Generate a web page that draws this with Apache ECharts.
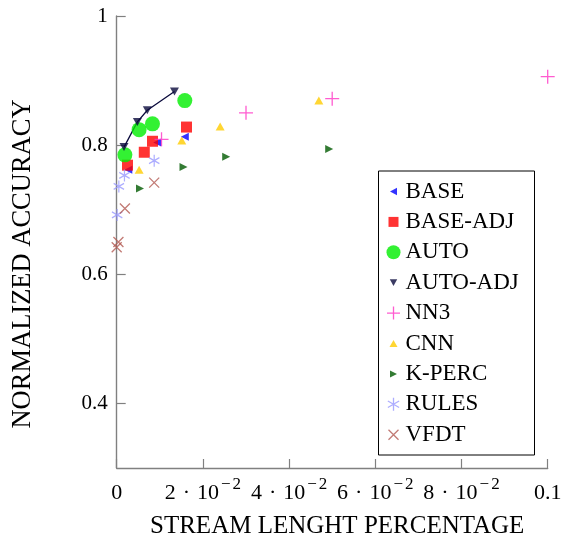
<!DOCTYPE html>
<html><head><meta charset="utf-8">
<script src="https://cdn.jsdelivr.net/npm/echarts@6/dist/echarts.min.js"></script>
<style>html,body{margin:0;padding:0;background:#fff}#c{width:577px;height:538px}</style>
</head><body><div id="c"></div><script>
// ---- data ----
const seriesNames = ['BASE','BASE-ADJ','AUTO','AUTO-ADJ','NN3','CNN','K-PERC','RULES','VFDT'];
const baseX    = [0.0027, 0.0094, 0.0158];
const baseY    = [0.762, 0.804, 0.813];
const baseAdjX = [0.0025, 0.0064, 0.0083, 0.0162];
const baseAdjY = [0.769, 0.789, 0.806, 0.828];
const autoX    = [0.0019, 0.0052, 0.0083, 0.0158];
const autoY    = [0.785, 0.824, 0.833, 0.869];
const autoAdjX = [0.0017, 0.0048, 0.0071, 0.0134];
const autoAdjY = [0.797, 0.836, 0.854, 0.883];
const nn3X     = [0.0104, 0.0300, 0.0500, 0.1000];
const nn3Y     = [0.809, 0.850, 0.872, 0.906];
const cnnX     = [0.0052, 0.0151, 0.0240, 0.0469];
const cnnY     = [0.762, 0.807, 0.829, 0.869];
const kpercX   = [0.0054, 0.0155, 0.0254, 0.0493];
const kpercY   = [0.733, 0.766, 0.782, 0.794];
const rulesX   = [0.0001, 0.0005, 0.0018, 0.0087];
const rulesY   = [0.692, 0.736, 0.753, 0.776];
const vfdtX    = [0.0000, 0.0004, 0.0019, 0.0087];
const vfdtY    = [0.642, 0.650, 0.702, 0.742];
const xTicks = [0, 0.02, 0.04, 0.06, 0.08, 0.1];
const xTickMant = ['0', '2', '4', '6', '8', '0.1'];   // mantissa of n·10^-2
const xTickExp  = ['', '2', '2', '2', '2', ''];       // exponent magnitude (negative)
const yTicks = [0.4, 0.6, 0.8, 1];
const yTickLabels = ['0.4', '0.6', '0.8', '1'];
const xTitle = 'STREAM LENGHT PERCENTAGE';
const yTitle = 'NORMALIZED ACCURACY';

const zip = (xs, ys) => xs.map((x, i) => [x, ys[i]]);
const FONT = "'Liberation Serif', 'DejaVu Serif', serif";

// symbols
const P = {
  left:  'path://M10,0L10,10L0,5Z',
  right: 'path://M0,0L0,10L10,5Z',
  down:  'path://M0,0L10,0L5,10Z',
  up:    'path://M5,0L10,10L0,10Z',
  plus:  'path://M0,5L10,5M5,0L5,10',
  aster: 'path://M4.33,0L4.33,10M0,2.5L8.66,7.5M0,7.5L8.66,2.5',
  cross: 'path://M0,0L10,10M0,10L10,0'
};
const B = 'path://M0,0M14,14';
const legendIcons = {
  'BASE': B + 'M3.5,7L10.5,3.3L10.5,10.7Z',
  'BASE-ADJ': B + 'M2,2L12,2L12,12L2,12Z',
  'AUTO': 'circle',
  'AUTO-ADJ': B + 'M3.3,3.5L10.7,3.5L7,10.3Z',
  'NN3': B + 'M0.5,7L13.5,7M7,0.5L7,13.5',
  'CNN': B + 'M3,10.5L11,10.5L7,3.5Z',
  'K-PERC': B + 'M3.5,3.5L10.5,7L3.5,10.5Z',
  'RULES': B + 'M7,0.5L7,13.5M1.37,3.75L12.63,10.25M1.37,10.25L12.63,3.75',
  'VFDT': B + 'M2,2L12,12M2,12L12,2'
};
const strokeOnly = {'NN3': 1, 'RULES': 1, 'VFDT': 1};

function sc(name, data, symbol, size, color, stroke) {
  return {
    name, type: 'scatter', data, symbol, symbolSize: size, symbolKeepAspect: false,
    itemStyle: stroke ? {color: 'none', borderColor: color, borderWidth: 1.3}
                      : {color: color, borderWidth: 0},
    emphasis: {disabled: true}, z: 3
  };
}

const chart = echarts.init(document.getElementById('c'), null, {renderer: 'canvas'});
chart.setOption({
  animation: false,
  backgroundColor: '#fff',
  grid: {left: 116.7, right: 29.3, top: 16, bottom: 70, containLabel: false, outerBoundsMode: 'none'},
  graphic: [{
    type: 'rect', z: 8, silent: true,
    shape: {x: 378.5, y: 171, width: 156, height: 284},
    style: {fill: '#fff', stroke: '#000', lineWidth: 1}
  }],
  xAxis: {
    type: 'value', min: 0, max: 0.1,
    name: xTitle, nameLocation: 'middle', nameGap: 46,
    nameTextStyle: {fontFamily: FONT, fontSize: 25, color: '#000', padding: [0, 0, 0, 10]},
    axisLine: {show: true, lineStyle: {color: '#808080', width: 1.4}},
    axisTick: {show: true, inside: true, length: 9, customValues: xTicks, lineStyle: {color: '#808080', width: 1.2}},
    splitLine: {show: false},
    axisLabel: {
      customValues: xTicks, margin: 8, color: '#000',
      formatter: function (v) {
        let i = xTicks.findIndex(t => Math.abs(t - v) < 1e-9);
        if (i < 0) return '';
        if (!xTickExp[i]) return '{m|' + xTickMant[i] + '}';
        return '{m|' + xTickMant[i] + '}{d|·}{m|10}{mi|−}{s|' + xTickExp[i] + '}';
      },
      rich: {
        m: {fontFamily: FONT, fontSize: 22, lineHeight: 28, color: '#000', verticalAlign: 'bottom'},
        d: {fontFamily: FONT, fontSize: 22, lineHeight: 28, color: '#000', padding: [0, 7, 0, 7], verticalAlign: 'bottom'},
        mi: {fontFamily: FONT, fontSize: 17, lineHeight: 16, color: '#000', verticalAlign: 'top', padding: [0, 2, 0, 2]},
        s: {fontFamily: FONT, fontSize: 17, lineHeight: 16, color: '#000', verticalAlign: 'top'}
      }
    }
  },
  yAxis: {
    type: 'value', min: 0.3, max: 1,
    name: yTitle, nameLocation: 'middle', nameGap: 80,
    nameTextStyle: {fontFamily: FONT, fontSize: 26.5, color: '#000', padding: [0, 44, 0, 0]},
    axisLine: {show: true, lineStyle: {color: '#808080', width: 1.4}},
    axisTick: {show: true, inside: true, length: 9, customValues: yTicks, lineStyle: {color: '#808080', width: 1.2}},
    splitLine: {show: false},
    axisLabel: {
      customValues: yTicks, margin: 9, color: '#000', fontFamily: FONT, fontSize: 21,
      formatter: function (v) {
        let i = yTicks.findIndex(t => Math.abs(t - v) < 1e-9);
        return i < 0 ? '' : yTickLabels[i];
      }
    }
  },
  legend: {
    orient: 'vertical', left: 384, top: 180, z: 10,
    padding: 0,
    itemWidth: 14, itemHeight: 14, itemGap: 7.4,
    textStyle: {fontFamily: FONT, fontSize: 23, lineHeight: 23, color: '#000'},
    selectedMode: false,
    data: seriesNames.map(n => ({
      name: n, icon: legendIcons[n],
      itemStyle: strokeOnly[n] ? {borderWidth: 1.3} : {borderWidth: 0}
    }))
  },
  series: [
    sc('BASE', zip(baseX, baseY), P.left, 8, '#0000ff'),
    sc('BASE-ADJ', zip(baseAdjX, baseAdjY), 'rect', 11, '#ff0000'),
    sc('AUTO', zip(autoX, autoY), 'circle', 15, '#00ee00'),
    {name: 'AUTO-ADJ-line', type: 'line', data: zip(autoAdjX, autoAdjY), symbol: 'none',
     lineStyle: {color: '#0a0a3c', width: 1.3}, emphasis: {disabled: true}, z: 3},
    sc('AUTO-ADJ', zip(autoAdjX, autoAdjY), P.down, [9, 8], '#0a0a3c'),
    sc('NN3', zip(nn3X, nn3Y), P.plus, 14, '#ff33c4', true),
    sc('CNN', zip(cnnX, cnnY), P.up, [9, 8], '#ffcc00'),
    sc('K-PERC', zip(kpercX, kpercY), P.right, 8, '#005a00'),
    sc('RULES', zip(rulesX, rulesY), P.aster, [10.4, 12], '#9999ff', true),
    sc('VFDT', zip(vfdtX, vfdtY), P.cross, 10, '#b35a52', true)
  ]
});
</script></body></html>
